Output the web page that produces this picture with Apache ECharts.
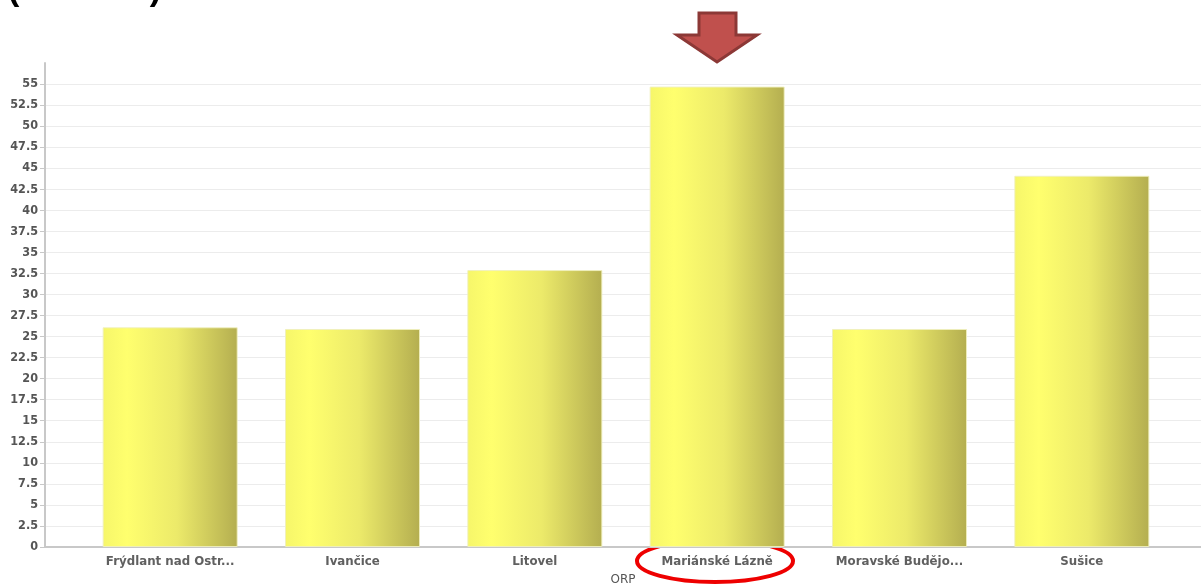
<!DOCTYPE html>
<html><head><meta charset="utf-8">
<script src="https://cdn.jsdelivr.net/npm/echarts@6/dist/echarts.min.js"></script>
<style>html,body{margin:0;padding:0;background:#fff}#c{width:1201px;height:586px}</style>
</head><body><div id="c"></div>
<script>
const categories = ["Frýdlant nad Ostravicí", "Ivančice", "Litovel", "Mariánské Lázně", "Moravské Budějovice", "Sušice"];
const values = [26.1, 25.9, 32.9, 54.7, 25.9, 44.1];
const yTicks = [0, 2.5, 5, 7.5, 10, 12.5, 15, 17.5, 20, 22.5, 25, 27.5, 30, 32.5, 35, 37.5, 40, 42.5, 45, 47.5, 50, 52.5, 55];
const axisName = "ORP";
const topText = "(v tis. Kč)";

const chart = echarts.init(document.getElementById('c'), null, {renderer: 'canvas'});
const font = 'DejaVu Sans';
const gridTop = 63, gridBottom = 39;
const option = {
  animation: false,
  grid: [
    {left: 45, right: 0, top: gridTop, bottom: gridBottom, outerBoundsMode: 'none', containLabel: false},
    {left: 79, right: 28, top: gridTop, bottom: gridBottom, outerBoundsMode: 'none', containLabel: false}
  ],
  xAxis: [
    {gridIndex: 0, type: 'category', data: [''], axisTick: {show: false}, axisLabel: {show: false},
     axisLine: {lineStyle: {color: '#c8c8c8', width: 2}},
     name: axisName, nameLocation: 'middle', nameGap: 27,
     nameTextStyle: {color: '#555', fontFamily: font, fontSize: 12}},
    {gridIndex: 1, type: 'category', data: categories, axisTick: {show: false},
     axisLine: {show: false},
     axisLabel: {color: '#606060', fontFamily: font, fontWeight: 'bold', fontSize: 11.8, margin: 9,
       width: 135, overflow: 'truncate', ellipsis: '...', interval: 0}}
  ],
  yAxis: [
    {gridIndex: 0, type: 'value', min: 0, max: 57.5,
     axisLine: {show: true, lineStyle: {color: '#c8c8c8', width: 2}},
     axisTick: {show: true, length: 5, lineStyle: {color: '#c8c8c8'}, customValues: yTicks},
     axisLabel: {color: '#555', fontFamily: 'DejaVu Sans Condensed', fontWeight: 'bold', fontSize: 12.5, margin: 7, customValues: yTicks},
     splitLine: {show: true, lineStyle: {color: '#ececec', width: 1}}},
    {gridIndex: 1, type: 'value', min: 0, max: 57.5, show: false, splitLine: {show: false}}
  ],
  series: [{
    type: 'bar', xAxisIndex: 1, yAxisIndex: 1, data: values, barWidth: 135,
    itemStyle: {
      color: new echarts.graphic.LinearGradient(0, 0, 1, 0, [
        {offset: 0, color: '#f6f66a'},
        {offset: 0.18, color: '#ffff6e'},
        {offset: 0.55, color: '#ecea6a'},
        {offset: 1, color: '#b4ae50'}
      ]),
      borderColor: 'rgba(240,240,190,0.9)', borderWidth: 1
    }
  }],
  graphic: [
    {type: 'text', left: 8, top: -26, style: {text: topText, font: 'bold 34px Arial', fill: '#000'}},
    {type: 'polygon', shape: {points: [[699,13],[736,13],[736,35],[757,35],[717,62],[677,35],[699,35]]},
     style: {fill: '#c0504d', stroke: '#8c3836', lineWidth: 3}},
    {type: 'ellipse', shape: {cx: 715, cy: 561, rx: 78, ry: 21},
     style: {fill: 'none', stroke: '#ee0000', lineWidth: 4}}
  ]
};
chart.setOption(option);
</script></body></html>
